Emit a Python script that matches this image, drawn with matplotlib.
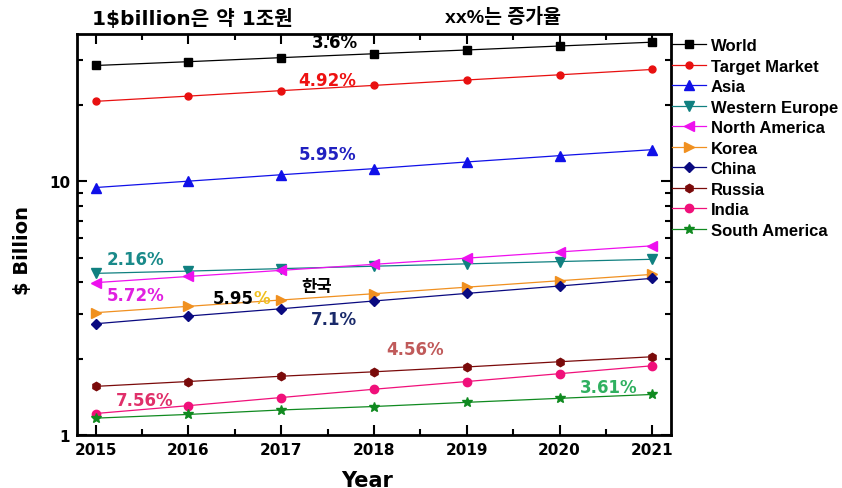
import matplotlib
matplotlib.use('Agg')
import matplotlib.pyplot as plt
from matplotlib.ticker import LogLocator, FixedLocator, NullFormatter, FixedFormatter

plt.rcParams['font.family'] = ['DejaVu Sans', 'Noto Sans CJK KR']
plt.rcParams['font.weight'] = 'bold'

years = [2015, 2016, 2017, 2018, 2019, 2020, 2021]

world = [28.5, 29.5, 30.6, 31.7, 32.8, 34.0, 35.2]
target_market = [20.6, 21.6, 22.7, 23.8, 25.0, 26.2, 27.5]
asia = [9.44, 10.0, 10.6, 11.2, 11.9, 12.6, 13.3]
western_europe = [4.34, 4.43, 4.53, 4.63, 4.73, 4.83, 4.93]
north_america = [3.99, 4.22, 4.46, 4.71, 4.98, 5.27, 5.57]
korea = [3.04, 3.22, 3.41, 3.61, 3.83, 4.06, 4.30]
china = [2.75, 2.95, 3.15, 3.38, 3.62, 3.87, 4.15]
russia = [1.56, 1.63, 1.71, 1.78, 1.86, 1.95, 2.04]
india = [1.22, 1.31, 1.41, 1.52, 1.63, 1.75, 1.88]
south_america = [1.17, 1.21, 1.26, 1.30, 1.35, 1.40, 1.45]

names = ['World', 'Target Market', 'Asia', 'Western Europe', 'North America',
         'Korea', 'China', 'Russia', 'India', 'South America']
series = [world, target_market, asia, western_europe, north_america,
          korea, china, russia, india, south_america]
colors = ['#000000', '#e81010', '#1010e8', '#108080', '#ee10ee',
          '#f09020', '#0a0a80', '#7a0a0a', '#f0107a', '#108a20']
markers = ['s', 'o', '^', 'v', '<', '>', 'D', 'h', 'o', '*']
msizes = [5.2, 5, 6.5, 6.5, 6.5, 6.5, 5, 6, 6, 7]

# growth rate labels: text, colour, (x, y) in data coords
rates = [
    ('3.6%', '#000000', 2017.58, 35.2),
    ('4.92%', '#ee1111', 2017.50, 25.0),
    ('5.95%', '#2020c0', 2017.50, 12.77),
    ('2.16%', '#1a8a8a', 2015.43, 4.93),
    ('5.72%', '#e020e0', 2015.43, 3.57),
    ('7.1%', '#1a2a6a', 2017.57, 2.86),
    ('4.56%', '#c05a5a', 2018.44, 2.18),
    ('7.56%', '#e0306a', 2015.53, 1.373),
    ('3.61%', '#30b060', 2020.53, 1.549),
]

fig = plt.figure(figsize=(8.42, 4.89), dpi=100)
ax = fig.add_axes([0.0914, 0.1074, 0.7055, 0.821])

for name, vals, c, m, ms in zip(names, series, colors, markers, msizes):
    ax.plot(years, vals, color=c, lw=0.9, marker=m, markersize=ms,
            markerfacecolor=c, markeredgecolor=c, label=name)

ax.set_yscale('log')
ax.set_xlim(2014.8, 2021.2)
ax.set_ylim(1, 37.9)

ax.xaxis.set_major_locator(FixedLocator(years))
ax.xaxis.set_minor_locator(FixedLocator([y + 0.5 for y in years[:-1]]))
ax.yaxis.set_major_locator(FixedLocator([1, 10]))
ax.yaxis.set_major_formatter(FixedFormatter(['1', '10']))
ax.yaxis.set_minor_locator(LogLocator(base=10, subs=range(2, 10)))
ax.yaxis.set_minor_formatter(NullFormatter())

ax.tick_params(which='both', direction='in', top=True, right=True, width=1.5)
ax.tick_params(which='major', length=7, labelsize=11, pad=5)
ax.tick_params(which='minor', length=4)
for lab in ax.get_xticklabels() + ax.get_yticklabels():
    lab.set_fontweight('bold')
for sp in ax.spines.values():
    sp.set_linewidth(2)

ax.set_ylabel('$ Billion', fontsize=14, fontweight='bold')
ax.yaxis.set_label_coords(-0.076, 0.464)
fig.text(0.4364, 0.005, 'Year', fontsize=15, fontweight='bold', ha='center', va='baseline')

for txt, c, x, y in rates:
    ax.text(x, y, txt, color=c, fontsize=12, fontweight='bold', ha='center', va='center')

ax.text(2016.70, 3.46, '5.95', color='#000000', fontsize=12, fontweight='bold', ha='right', va='center')
ax.text(2016.70, 3.46, '%', color='#f0c020', fontsize=12, fontweight='bold', ha='left', va='center')
ax.text(2017.38, 3.86, '한국', color='#000000', fontsize=12, fontweight='bold', ha='center', va='center')

fig.text(0.109, 0.962, '1$billion은 약 1조원', fontsize=14.5, fontweight='bold', ha='left', va='center')
fig.text(0.528, 0.964, 'xx%는 증가율', fontsize=14, fontweight='bold', ha='left', va='center',
         family=['Liberation Sans', 'Noto Sans CJK KR'])

leg = ax.legend(loc='upper left', bbox_to_anchor=(1.002, 0.99), frameon=False,
                prop={'family': 'Liberation Sans', 'weight': 'bold', 'size': 12},
                handlelength=2.0, handletextpad=0.3,
                labelspacing=0.33, borderpad=0, borderaxespad=0)

fig.savefig('out.png', dpi=100)
